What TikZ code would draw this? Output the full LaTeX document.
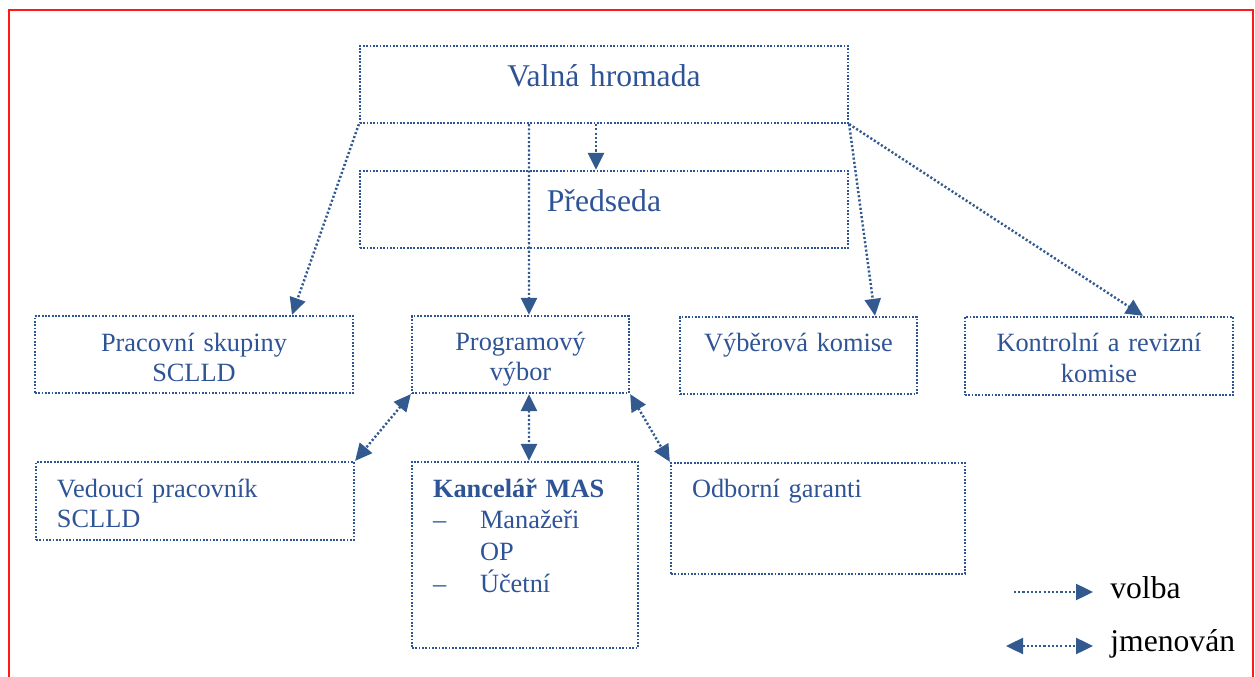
\documentclass[tikz,border=0pt]{standalone}
\usepackage{fontspec}
\setmainfont{Liberation Serif}
\usepackage{tikz}
\usetikzlibrary{arrows.meta,positioning}
\definecolor{masblue}{HTML}{2F5496}
\definecolor{arrblue}{HTML}{335A8E}
\definecolor{redframe}{HTML}{FF1A1A}

\begin{document}
\begin{tikzpicture}[
  font=\fontsize{15pt}{17.4pt}\selectfont, every node/.style={align=center},
  box/.style={draw=masblue,text=masblue,line width=1.3pt,
              dash pattern=on 1pt off 0.9pt,anchor=base,
              inner xsep=0.42cm,inner ysep=0pt,text height=0.7cm},
  big/.style={font=\fontsize{18pt}{21pt}\selectfont},
  volba/.style={-{Triangle[length=0.34cm,width=0.32cm]},arrblue,
                line width=1.4pt,dash pattern=on 1.2pt off 1.2pt},
  jmen/.style={{Triangle[length=0.34cm,width=0.32cm]}-{Triangle[length=0.34cm,width=0.32cm]},
               arrblue,line width=1.4pt,dash pattern=on 1.2pt off 1.2pt},
  legend/.style={anchor=base west,inner xsep=0.34cm,
                 font=\fontsize{18pt}{21pt}\selectfont}
]
\useasboundingbox (0,0) rectangle (25.1,-13.54);
\draw[redframe,line width=1.13pt] (0.18,-13.6) -- (0.18,-0.2) -- (25.06,-0.2) -- (25.06,-13.6);

\node[box,big,text width=8.92cm,text height=0.82cm,text depth=0.72cm] (vh) at (12.08,-1.74) {Valná hromada};
\node[box,big,text width=8.92cm,text height=0.80cm,text depth=0.74cm] (pr) at (12.08,-4.22) {Předseda};

\node[box,text width=5.52cm,text depth=0.84cm] (ps) at (3.88,-7.02) {Pracovní skupiny\\SCLLD};
\node[box,text width=3.50cm,text height=0.68cm,text depth=0.86cm] (pv) at (10.41,-7.00) {Programový\\výbor};
\node[box,text width=3.90cm,text height=0.68cm,text depth=0.86cm] (vk) at (15.97,-7.02) {Výběrová komise};
\node[box,text width=4.52cm,text depth=0.86cm] (kr) at (21.98,-7.04) {Kontrolní a revizní\\komise};

\node[box,align=left,text width=5.52cm,text depth=0.86cm] (vp) at (3.90,-9.94) {Vedoucí pracovník\\SCLLD};
\node[box,align=left,text width=3.68cm,text depth=3.02cm,
      font=\fontsize{15pt}{18.2pt}\selectfont] (km) at (10.50,-9.94)
  {\textbf{Kancelář MAS}\\\makebox[0.94cm][l]{–}Manažeři\\\hspace*{0.94cm}OP\\\makebox[0.94cm][l]{–}Účetní};
\node[box,align=left,text width=5.04cm,text height=0.68cm,text depth=1.54cm] (og) at (16.36,-9.94) {Odborní garanti};

% volba
\draw[volba] ([xshift=-0.16cm]vh.south) -- ([xshift=-0.16cm]pr.north);
\draw[volba] ([xshift=-1.5cm]vh.south) -- ([xshift=0.17cm]pv.north);
\draw[volba] (vh.south west) -- ([xshift=1.96cm]ps.north);
\draw[volba] (vh.south east) -- ([xshift=1.53cm]vk.north);
\draw[volba] (vh.south east) -- ([xshift=0.88cm]kr.north);

% jmenovan
\draw[jmen] (pv.south west) -- (vp.north east);
\draw[jmen] ([xshift=0.17cm]pv.south) -- ([xshift=0.08cm]km.north);
\draw[jmen] (pv.south east) -- (og.north west);

% legend
\coordinate (lv) at (20.28,-11.84);
\coordinate (lj) at (20.12,-12.92);
\node[legend] (volbaL) at (21.86,-11.96) {volba};
\node[legend] (jmenL) at (21.86,-13.02) {jmenován};
\draw[volba] (lv) -- (lv -| volbaL.west);
\draw[jmen] (lj) -- (lj -| jmenL.west);
\end{tikzpicture}
\end{document}
